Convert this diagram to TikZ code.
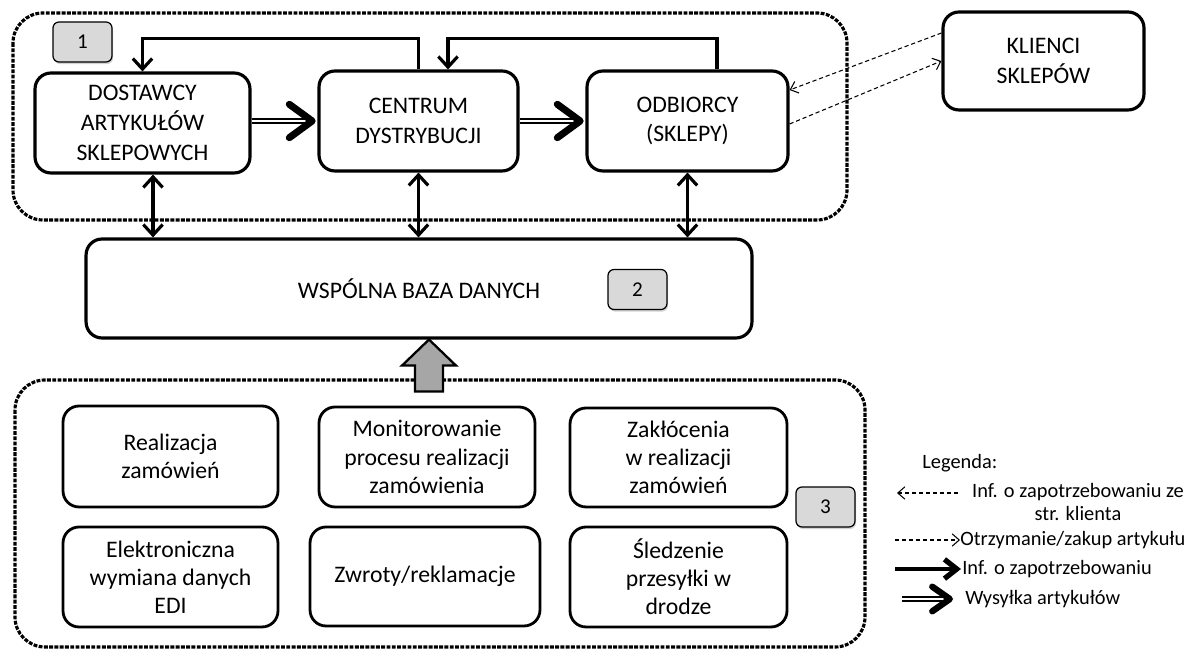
\documentclass[tikz,border=0pt]{standalone}
\usepackage{fontspec}
\setmainfont{Carlito}
\usetikzlibrary{positioning, arrows.meta, calc, shadows}
\definecolor{numgray}{HTML}{D9D9D9}
\definecolor{arrgray}{HTML}{A6A6A6}

\begin{document}
\begin{tikzpicture}[x=0.02cm, y=-0.02cm,
    box/.style={draw, line width=1.8pt, rounded corners=0.32cm, align=center, inner sep=2pt,
                font=\fontsize{13.5}{17}\selectfont},
    task/.style={box, line width=1.6pt, font=\fontsize{13.5}{16}\selectfont},
    num/.style={draw, line width=0.7pt, fill=numgray, rounded corners=0.12cm, minimum width=1.18cm,
                minimum height=0.8cm, font=\fontsize{12}{14}\selectfont,
                drop shadow={opacity=0.35, shadow xshift=0.6pt, shadow yshift=-1.2pt}},
    group/.style={line width=1.8pt, dash pattern=on 2.2pt off 0.8pt, rounded corners=0.6cm},
    info/.style={line width=1.8pt, -{Straight Barb[length=6pt, width=11pt]}},
    infoboth/.style={info, {Straight Barb[length=6pt, width=11pt]}-{Straight Barb[length=6pt, width=11pt]}},
    ship/.style={double, double distance=1.6pt, line width=1.1pt, shorten >=3pt},
    shiphead/.style={line width=4pt, -{Straight Barb[length=13pt, width=19pt, round]}},
    legshiphead/.style={line width=3.6pt, -{Straight Barb[length=10pt, width=14pt, round]}},
    legarrow/.style={line width=1.8pt, -{Straight Barb[line width=3pt, length=7pt, width=11pt]}},
    client/.style={line width=0.6pt, dash pattern=on 2.4pt off 1.6pt, -{Straight Barb[length=4pt, width=7pt]}},
    legtext/.style={font=\fontsize{11.6}{13.2}\selectfont, inner sep=0pt}]
  \useasboundingbox (0,0) rectangle (1194,651);

  \draw[group] (13,13) rectangle (847,220);
  \draw[group] (15,380) rectangle (865,647);

  \node[box, minimum width=4.3cm, minimum height=2cm] (dost) at (142.5,123) {DOSTAWCY\\ARTYKUŁÓW\\SKLEPOWYCH};
  \node[box, minimum width=3.98cm, minimum height=2cm] (cent) at (418.5,121) {CENTRUM\\DYSTRYBUCJI};
  \node[box, minimum width=4.02cm, minimum height=2cm] (odb) at (687.5,121) {ODBIORCY\\(SKLEPY)};
  \node[box, minimum width=4.02cm, minimum height=1.96cm] (kli) at (1043.5,61) {KLIENCI\\SKLEPÓW};
  \node[box, minimum width=13.32cm, minimum height=1.98cm] (baza) at (419,288.5) {WSPÓLNA BAZA DANYCH};
  \node[num] (num1) at (82.5,42) {1};
  \node[num] (num2) at (637.5,289.5) {2};
  \node[num] (num3) at (825.5,507) {3};

  \node[task, minimum width=4.3cm, minimum height=2.02cm] (real) at (170.5,456.5) {Realizacja\\zamówień};
  \node[task, minimum width=4.32cm, minimum height=2cm] (mon) at (427,457) {Monitorowanie\\procesu realizacji\\zamówienia};
  \node[task, minimum width=4.34cm, minimum height=1.98cm] (zak) at (678.5,457.5) {Zakłócenia\\w realizacji\\zamówień};
  \node[task, minimum width=4.3cm, minimum height=2cm] (edi) at (170.5,577) {Elektroniczna\\wymiana danych\\EDI};
  \node[task, minimum width=4.6cm, minimum height=1.98cm] (zwr) at (425,576.5) {Zwroty/reklamacje};
  \node[task, minimum width=4.34cm, minimum height=2cm] (sled) at (678.5,577) {Śledzenie\\przesyłki w\\drodze};

  \draw[info] (cent.north) -- ++(0,-31) -| (dost.north);
  \draw[info] ([xshift=0.59cm]odb.north) -- ++(0,-31) -| ([xshift=0.59cm]cent.north);
  \draw[ship] (dost.east |- cent.west) -- (cent.west);
  \draw[shiphead] ([xshift=-3pt]cent.west) -- ([xshift=-1pt]cent.west);
  \draw[ship] (cent.east) -- (odb.west);
  \draw[shiphead] ([xshift=-3pt]odb.west) -- ([xshift=-1pt]odb.west);
  \draw[infoboth] ([xshift=0.21cm]dost.south) -- ([xshift=0.21cm]dost.south |- baza.north);
  \draw[infoboth] (cent.south) -- (cent.south |- baza.north);
  \draw[infoboth] (odb.south) -- (odb.south |- baza.north);
  \draw[client] ([yshift=0.56cm]kli.west) -- ([yshift=0.62cm]odb.east);
  \draw[client] ([yshift=-0.06cm]odb.east) -- (kli.west);

  \coordinate (tip) at ([xshift=0.2cm]baza.south);
  \draw[line width=1.3pt, fill=arrgray] (tip) -- ++(27,26) -- ++(-13,0) -- ++(0,26) -- ++(-28,0)
    -- ++(0,-26) -- ++(-13,0) -- cycle;

  \node[legtext, anchor=west] (leg) at (922,463) {Legenda:};
  \coordinate (l1a) at (897,493);
  \coordinate (l1b) at (958,493);
  \draw[client] (l1b) -- (l1a);
  \node[legtext, align=center] (t1) at (1078,502) {Inf. o zapotrzebowaniu ze\\str. klienta};
  \coordinate (l2a) at (895,540);
  \coordinate (l2b) at (960,540);
  \draw[client] (l2a) -- (l2b);
  \node[legtext, anchor=west] (t2) at (960,540) {Otrzymanie/zakup artykułu};
  \coordinate (l3a) at (895,569);
  \coordinate (l3b) at (961,569);
  \draw[legarrow] (l3a) -- (l3b);
  \node[legtext, anchor=west] (t3) at (962,569) {Inf. o zapotrzebowaniu};
  \coordinate (l4a) at (902,599);
  \coordinate (l4b) at (953,599);
  \draw[ship] (l4a) -- (l4b);
  \draw[legshiphead] ([xshift=-2pt]l4b) -- (l4b);
  \node[legtext, anchor=west] (t4) at (965,599) {Wysyłka artykułów};
\end{tikzpicture}
\end{document}
